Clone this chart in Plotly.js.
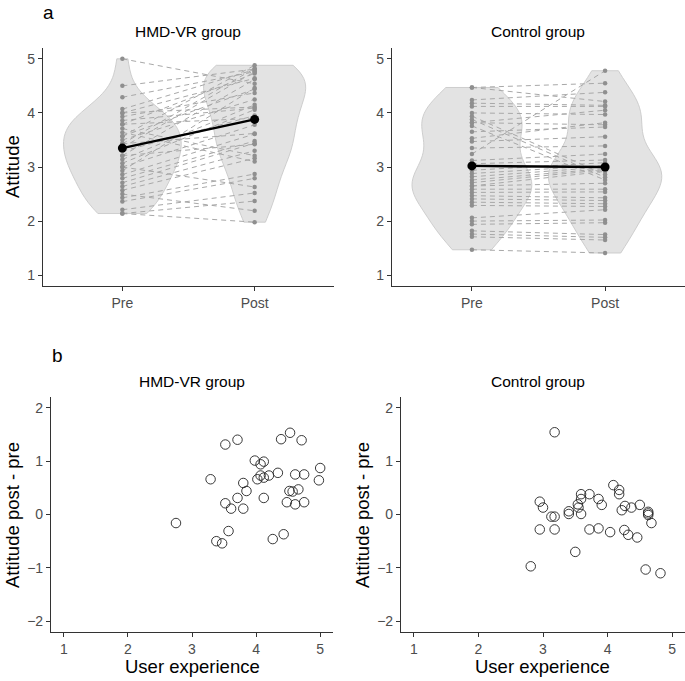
<!DOCTYPE html>
<html>
<head>
<meta charset="utf-8">
<script src="https://cdn.plot.ly/plotly-3.0.1.min.js"></script>
<style>html,body{margin:0;padding:0;background:#fff;}#chart{width:685px;height:681px;}</style>
</head>
<body>
<div id="chart"></div>
<script>
// ---------- data ----------
var timeLabels = ['Pre', 'Post'];
var groupTitles = ['HMD-VR group', 'Control group'];

// HMD-VR group: attitude per participant (pre, post)
var preHMD = [5.00, 4.50, 4.29, 4.07, 4.00, 4.00, 3.93, 3.86, 3.79, 3.79, 3.71, 3.64, 3.57, 3.57, 3.50, 3.43, 3.43, 3.36, 3.29, 3.21, 3.21, 3.14, 3.07, 3.00, 3.00, 2.93, 2.86, 2.79, 2.71, 2.64, 2.57, 2.50, 2.43, 2.36, 2.21, 2.14, 2.14];
var postHMD = [4.54, 4.81, 4.76, 4.80, 4.11, 4.64, 4.37, 4.09, 4.73, 3.90, 3.21, 3.10, 4.44, 4.88, 4.25, 4.82, 3.62, 4.76, 3.95, 4.62, 3.42, 4.15, 4.06, 2.63, 3.78, 4.46, 3.61, 3.48, 3.44, 3.30, 3.16, 2.19, 2.87, 2.79, 2.52, 2.37, 1.98];
var meanHMD = [3.35, 3.88];

// Control group
var preCtrl = [4.47, 4.47, 4.24, 4.18, 4.12, 4.00, 3.94, 3.88, 3.82, 3.82, 3.76, 3.65, 3.53, 3.47, 3.35, 3.24, 3.12, 3.06, 2.94, 2.88, 2.82, 2.76, 2.71, 2.65, 2.65, 2.59, 2.53, 2.47, 2.41, 2.35, 2.29, 2.06, 2.00, 1.94, 1.82, 1.76, 1.71, 1.47];
var postCtrl = [4.55, 4.21, 4.38, 4.14, 4.12, 3.97, 2.86, 2.81, 4.05, 3.78, 2.76, 3.74, 3.82, 3.56, 3.39, 4.78, 3.24, 3.13, 3.08, 3.03, 3.00, 2.97, 2.95, 2.92, 2.70, 2.59, 2.54, 2.43, 2.38, 2.32, 2.27, 2.21, 2.02, 1.97, 1.75, 1.70, 1.65, 1.41];
var meanCtrl = [3.02, 3.00];

// User experience vs attitude change (post - pre)
var uxHMD = [3.52, 3.71, 4.39, 4.53, 4.71, 3.98, 4.12, 4.07, 3.29, 3.80, 3.85, 4.02, 4.07, 4.12, 4.20, 4.34, 4.61, 4.75, 5.00, 4.98, 4.52, 4.57, 4.66, 3.71, 4.12, 3.52, 3.61, 3.80, 4.48, 4.61, 4.75, 2.75, 3.57, 3.38, 3.47, 4.26, 4.43];
var diffHMD = [1.31, 1.40, 1.41, 1.53, 1.39, 1.01, 0.99, 0.94, 0.66, 0.59, 0.44, 0.66, 0.73, 0.69, 0.73, 0.78, 0.75, 0.75, 0.87, 0.64, 0.44, 0.43, 0.47, 0.31, 0.31, 0.21, 0.11, 0.11, 0.23, 0.19, 0.23, -0.16, -0.31, -0.50, -0.54, -0.46, -0.37];

var uxCtrl = [3.18, 2.95, 3.00, 3.13, 3.18, 2.95, 3.18, 2.81, 3.40, 3.40, 3.54, 3.55, 3.59, 3.59, 3.59, 3.72, 3.72, 3.50, 3.86, 3.91, 3.86, 4.04, 4.09, 4.18, 4.18, 4.22, 4.27, 4.37, 4.26, 4.32, 4.50, 4.46, 4.63, 4.63, 4.63, 4.68, 4.59, 4.82];
var diffCtrl = [1.54, 0.24, 0.13, -0.04, -0.04, -0.28, -0.28, -0.97, 0.06, 0.01, 0.19, 0.13, 0.38, 0.29, 0.01, 0.38, -0.28, -0.70, 0.29, 0.18, -0.26, -0.33, 0.55, 0.46, 0.38, 0.08, 0.16, 0.13, -0.29, -0.38, 0.18, -0.43, 0.05, 0.02, -0.01, -0.16, -1.03, -1.10];

// ---------- helpers ----------
function quantile(sorted, p) {
  var h = (sorted.length - 1) * p, lo = Math.floor(h), hi = Math.ceil(h);
  return sorted[lo] + (h - lo) * (sorted[hi] - sorted[lo]);
}
function nrd0(arr) { // R's default bandwidth (ggplot2 geom_violin)
  var n = arr.length, m = arr.reduce(function(a, b){return a + b;}, 0) / n;
  var sd = Math.sqrt(arr.reduce(function(a, b){return a + (b - m) * (b - m);}, 0) / (n - 1));
  var s = arr.slice().sort(function(a, b){return a - b;});
  var iqr = quantile(s, 0.75) - quantile(s, 0.25);
  return 0.9 * Math.min(sd, iqr / 1.34) * Math.pow(n, -0.2);
}
var W = 685, H = 681;
function px(x) { return x / W; }
function py(y) { return 1 - y / H; }

var FONT = 'Liberation Sans, Arial, sans-serif';
var traces = [];

function addTopPanel(pre, post, means, xa, ya, wPre, wPost) {
  [[pre, 1, wPre], [post, 2, wPost]].forEach(function(d) {
    traces.push({
      type: 'violin', y: d[0], x0: d[1], width: d[2], xaxis: xa, yaxis: ya,
      spanmode: 'hard', bandwidth: nrd0(d[0]), points: false,
      box: {visible: false}, meanline: {visible: false},
      fillcolor: '#e3e3e3', line: {color: '#c9c9c9', width: 0.9},
      opacity: 1, hoverinfo: 'skip', showlegend: false
    });
  });
  var lx = [], ly = [];
  for (var i = 0; i < pre.length; i++) { lx.push(1, 2, null); ly.push(pre[i], post[i], null); }
  traces.push({type: 'scatter', mode: 'lines', x: lx, y: ly, xaxis: xa, yaxis: ya,
    line: {color: '#a8a8a8', width: 1, dash: '5px,4px'}, showlegend: false, hoverinfo: 'skip'});
  traces.push({type: 'scatter', mode: 'markers',
    x: pre.map(function(){return 1;}).concat(post.map(function(){return 2;})),
    y: pre.concat(post), xaxis: xa, yaxis: ya,
    marker: {color: '#8f8f8f', size: 4.5}, showlegend: false, hoverinfo: 'skip'});
  traces.push({type: 'scatter', mode: 'lines+markers', x: [1, 2], y: means, xaxis: xa, yaxis: ya,
    line: {color: '#000', width: 2.4}, marker: {color: '#000', size: 9}, showlegend: false});
}
addTopPanel(preHMD, postHMD, meanHMD, 'x', 'y', 0.89, 0.77);
addTopPanel(preCtrl, postCtrl, meanCtrl, 'x2', 'y2', 0.9, 0.85);

function addScatter(ux, diff, xa, ya) {
  traces.push({type: 'scatter', mode: 'markers', x: ux, y: diff, xaxis: xa, yaxis: ya,
    marker: {symbol: 'circle-open', size: 9.5, color: '#222', line: {width: 0.9, color: '#222'}},
    showlegend: false});
}
addScatter(uxHMD, diffHMD, 'x3', 'y3');
addScatter(uxCtrl, diffCtrl, 'x4', 'y4');

function axisBase(extra) {
  var a = {showgrid: false, zeroline: false, showline: true, linecolor: '#333', linewidth: 1.1,
    ticks: 'outside', ticklen: 4, tickwidth: 1, tickcolor: '#333',
    tickfont: {family: FONT, size: 14, color: '#4d4d4d'}, fixedrange: true};
  for (var k in extra) a[k] = extra[k];
  return a;
}
var topX = {range: [0.4, 2.6], tickvals: [1, 2], ticktext: timeLabels};
var topY = {range: [0.8, 5.2], tickvals: [1, 2, 3, 4, 5]};
var botX = {range: [0.8, 5.2], tickvals: [1, 2, 3, 4, 5]};
var botY = {range: [-2.2, 2.2], tickvals: [-2, -1, 0, 1, 2]};
function merge(a, b) { var o = {}; for (var k in a) o[k] = a[k]; for (var k2 in b) o[k2] = b[k2]; return o; }

var yTop = [py(286), py(48)], yBot = [py(632), py(397)];
var layout = {
  width: W, height: H, margin: {l: 0, r: 0, t: 0, b: 0},
  paper_bgcolor: '#fff', plot_bgcolor: 'rgba(0,0,0,0)',
  font: {family: FONT}, violinmode: 'overlay', showlegend: false,
  xaxis: axisBase(merge(topX, {domain: [px(43), px(334)], anchor: 'y'})),
  yaxis: axisBase(merge(topY, {domain: yTop, anchor: 'x'})),
  xaxis2: axisBase(merge(topX, {domain: [px(392), px(685)], anchor: 'y2'})),
  yaxis2: axisBase(merge(topY, {domain: yTop, anchor: 'x2'})),
  xaxis3: axisBase(merge(botX, {domain: [px(51), px(333)], anchor: 'y3'})),
  yaxis3: axisBase(merge(botY, {domain: yBot, anchor: 'x3'})),
  xaxis4: axisBase(merge(botX, {domain: [px(401), px(685)], anchor: 'y4'})),
  yaxis4: axisBase(merge(botY, {domain: yBot, anchor: 'x4'})),
  annotations: []
};
function ann(text, x, y, size, angle) {
  layout.annotations.push({text: text, x: px(x), y: py(y), xref: 'paper', yref: 'paper',
    showarrow: false, xanchor: 'center', yanchor: 'middle', textangle: angle || 0,
    font: {family: FONT, size: size, color: '#000'}});
}
ann('a', 49, 12, 19);
ann('b', 57, 355, 19);
ann(groupTitles[0], 188, 31, 15.5);
ann(groupTitles[1], 538, 31, 15.5);
ann(groupTitles[0], 192, 381, 15.5);
ann(groupTitles[1], 538, 381, 15.5);
ann('Attitude', 12, 167, 18.5, -90);
ann('Attitude post - pre', 12, 515, 18.5, -90);
ann('Attitude post - pre', 362, 515, 18.5, -90);
ann('User experience', 192, 666, 18.5);
ann('User experience', 542, 666, 18.5);

Plotly.newPlot('chart', traces, layout, {displayModeBar: false, staticPlot: true});
</script>
</body>
</html>
